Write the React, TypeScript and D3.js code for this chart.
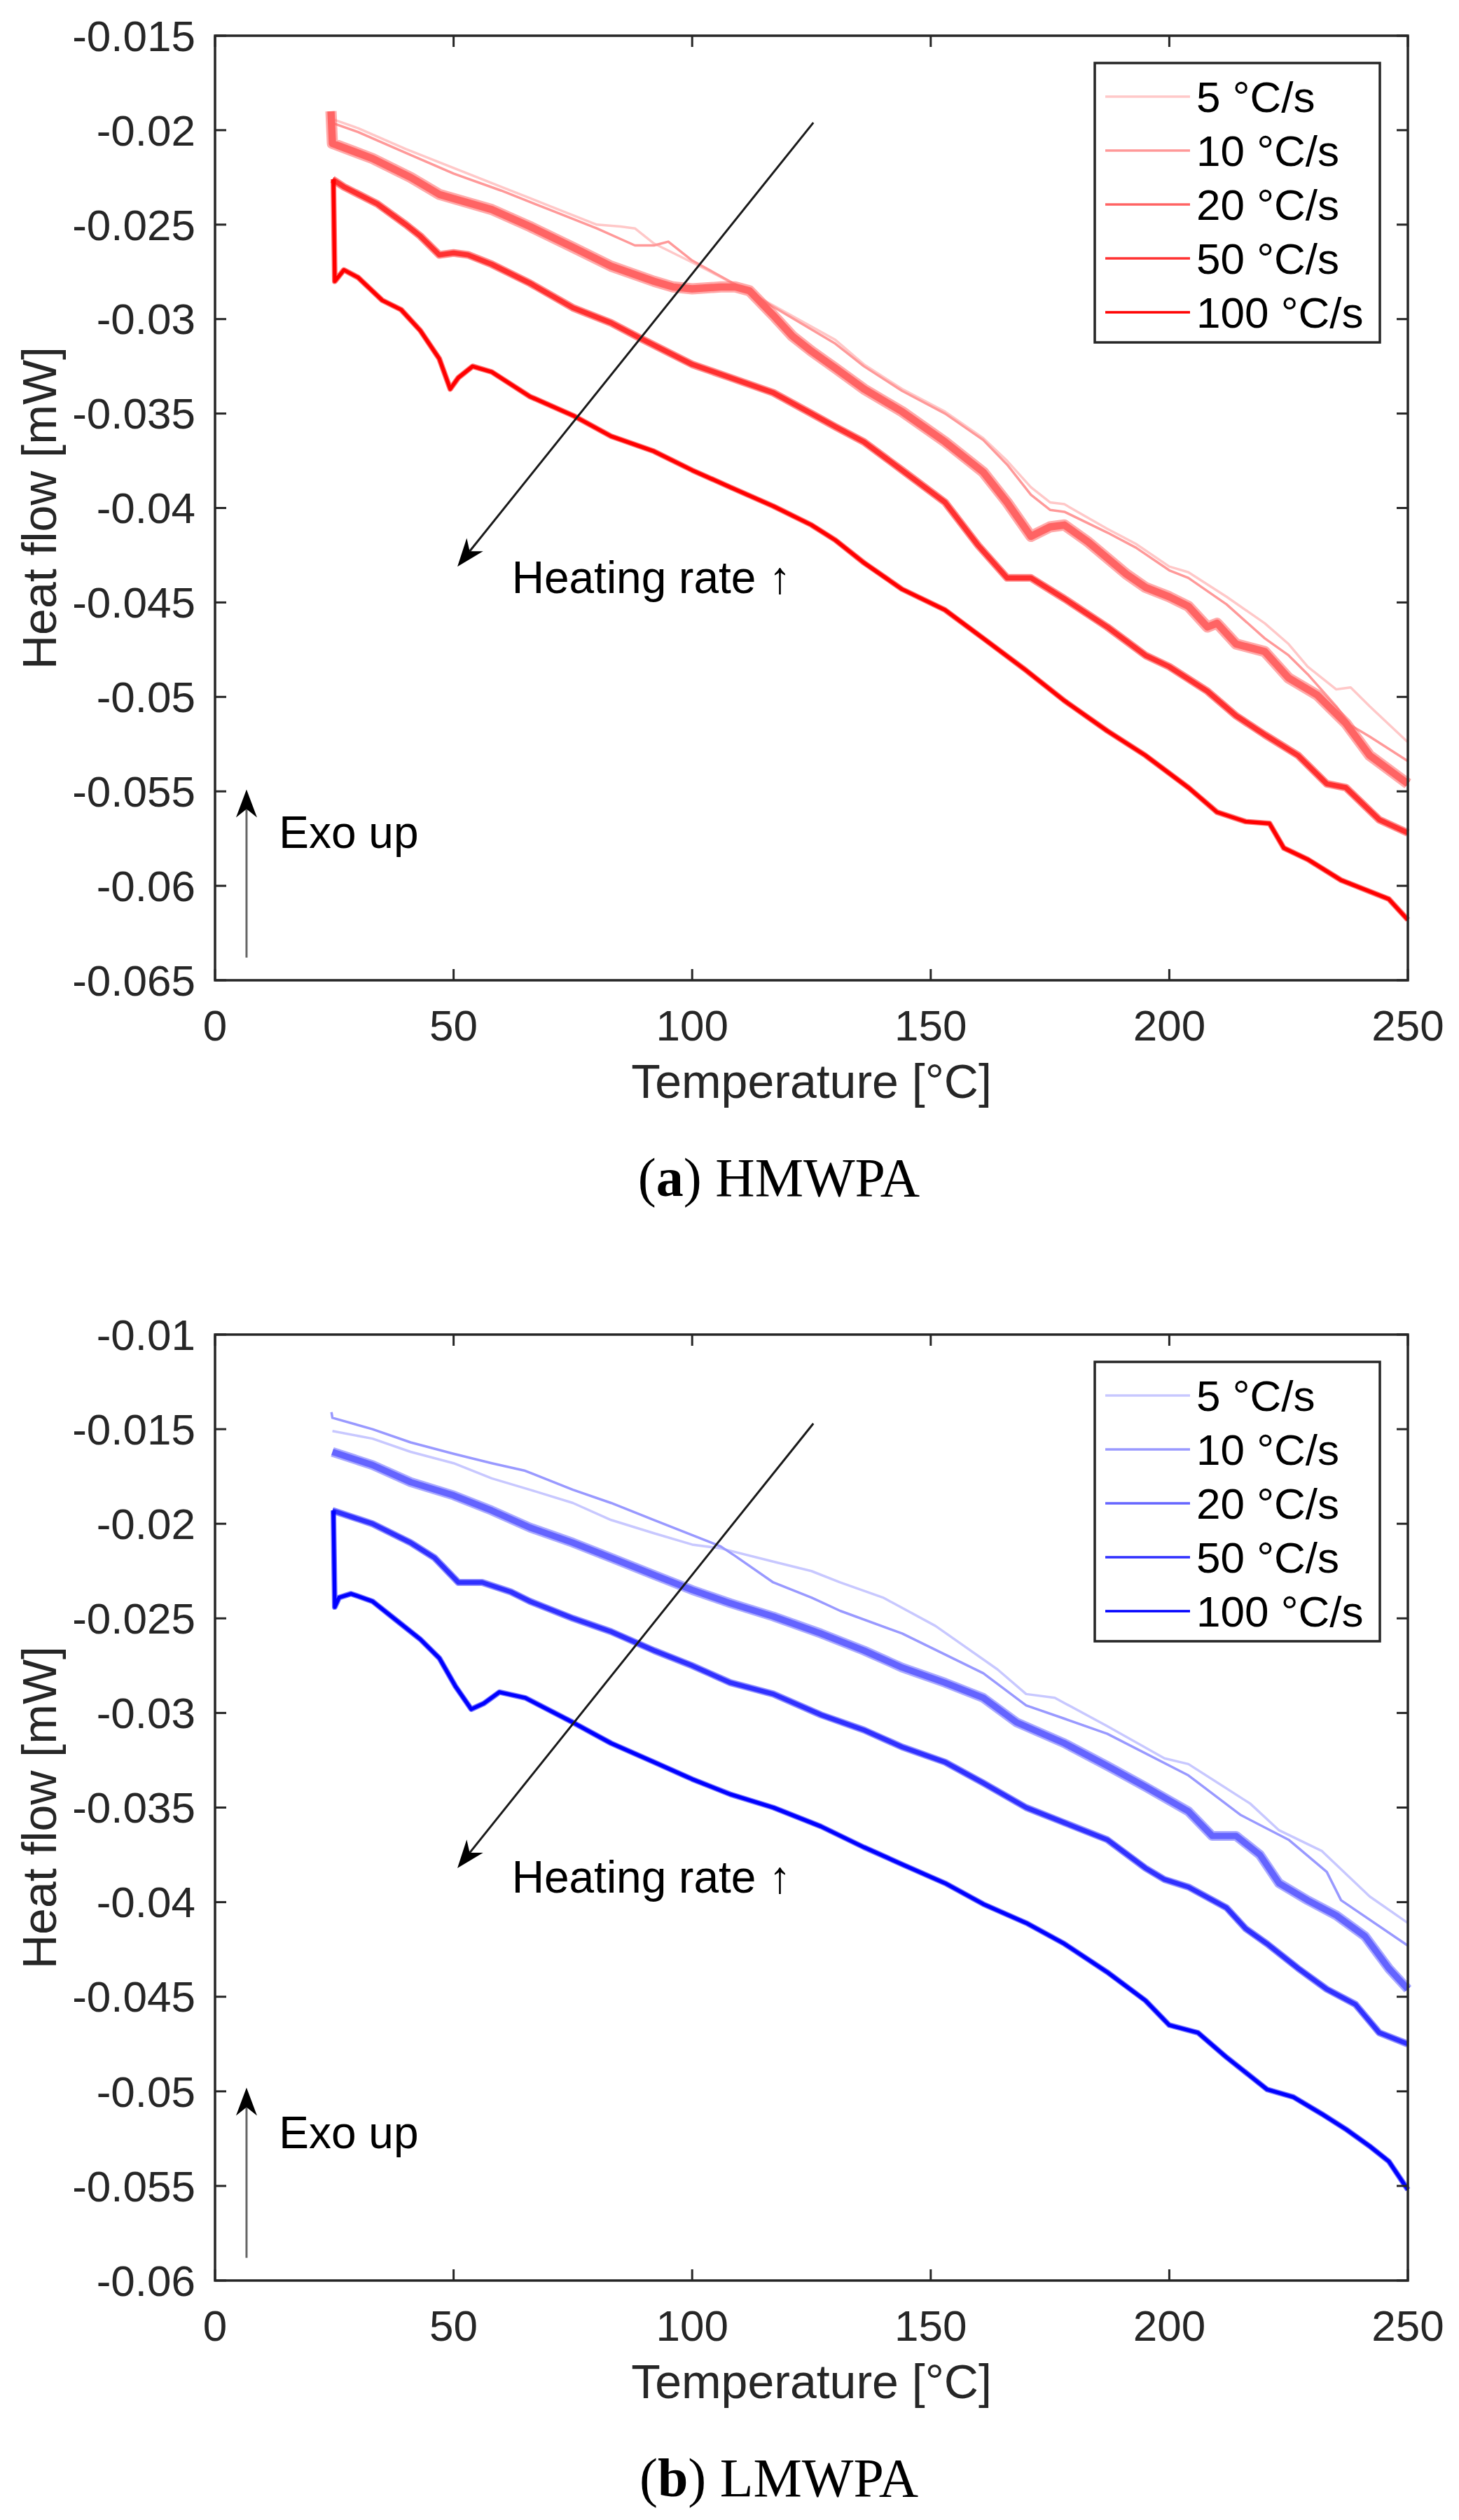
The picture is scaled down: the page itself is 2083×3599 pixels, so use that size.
import { useEffect } from "react";
import * as d3 from "d3";

type Pt = [number, number];

// ---- shared labels / ticks ----
const rateLabels = ["5 °C/s", "10 °C/s", "20 °C/s", "50 °C/s", "100 °C/s"];
const xTicks = [0, 50, 100, 150, 200, 250];
const yTicksA = [-0.065, -0.06, -0.055, -0.05, -0.045, -0.04, -0.035, -0.03, -0.025, -0.02, -0.015];
const yTicksB = [-0.06, -0.055, -0.05, -0.045, -0.04, -0.035, -0.03, -0.025, -0.02, -0.015, -0.01];

const redColors = ["#ffc8c8", "#ff9999", "#ff6464", "#ff3030", "#ff0000"];
const blueColors = ["#c8c8ff", "#9999ff", "#6464ff", "#3030ff", "#0000ff"];

// ---- (a) HMWPA : [temperature °C, heat flow mW] ----
const hmwpa5: Pt[] = [
  [24.4, -0.0194], [30, -0.0199], [40, -0.021], [50, -0.022], [60, -0.023], [70, -0.024], [80, -0.025],
  [85, -0.0251], [88, -0.0252], [92, -0.026], [96, -0.0265], [100, -0.027], [110, -0.0283], [120, -0.0297],
  [130, -0.0311], [136, -0.0324], [144, -0.0337], [153, -0.0349], [161, -0.0363], [166, -0.0375],
  [171, -0.0389], [175, -0.0397], [178, -0.0398], [187, -0.0411], [193, -0.0419], [200, -0.0431],
  [204, -0.0434], [212, -0.0447], [220, -0.0461], [225, -0.0472], [229, -0.0484], [235, -0.0496],
  [238, -0.0495], [242, -0.0505], [250, -0.0524],
];
const hmwpa10: Pt[] = [
  [24.4, -0.0196], [30, -0.0201], [40, -0.0212], [50, -0.0223], [60, -0.0232], [70, -0.0242], [80, -0.0252],
  [88, -0.0261], [92, -0.0261], [95, -0.0259], [100, -0.0269], [110, -0.0283], [120, -0.0298], [130, -0.0313],
  [136, -0.0325], [144, -0.0338], [153, -0.035], [161, -0.0364], [166, -0.0377], [171, -0.0393],
  [175, -0.0401], [178, -0.0402], [187, -0.0413], [193, -0.0421], [200, -0.0433], [204, -0.0437],
  [212, -0.0451], [220, -0.0469], [225, -0.0478], [229, -0.0488], [235, -0.0505], [238, -0.0515],
  [242, -0.0521], [250, -0.0534],
];
const hmwpa20: Pt[] = [
  [24.3, -0.019], [24.6, -0.0207], [33, -0.0215], [41, -0.0225], [47, -0.0234], [58, -0.0242], [66, -0.0251],
  [75, -0.0262], [83, -0.0272], [92, -0.028], [96, -0.0283], [100, -0.0284], [106, -0.0283], [109, -0.0283],
  [112, -0.0285], [117, -0.0298], [121, -0.0309], [125, -0.0317], [130, -0.0326], [136, -0.0337],
  [144, -0.0349], [153, -0.0365], [161, -0.0381], [166, -0.0397], [171, -0.0415], [175, -0.041],
  [178, -0.0409], [183, -0.0418], [191, -0.0435], [195, -0.0442], [200, -0.0447], [204, -0.0452],
  [208, -0.0463], [210, -0.0461], [214, -0.0472], [220, -0.0476], [225, -0.049], [231, -0.0499],
  [237, -0.0514], [242, -0.0531], [250, -0.0546],
];
const hmwpa50: Pt[] = [
  [24.6, -0.0226], [27, -0.023], [34, -0.0239], [40, -0.025], [43, -0.0256], [47, -0.0266], [50, -0.0265],
  [53, -0.0266], [58, -0.0271], [66, -0.0281], [75, -0.0294], [83, -0.0302], [89, -0.031], [100, -0.0324],
  [108, -0.0331], [117, -0.0339], [125, -0.035], [130, -0.0357], [136, -0.0365], [144, -0.038],
  [153, -0.0397], [160, -0.042], [166, -0.0437], [171, -0.0437], [178, -0.0448], [187, -0.0463],
  [195, -0.0478], [200, -0.0484], [208, -0.0497], [214, -0.051], [220, -0.052], [227, -0.0531],
  [233, -0.0546], [237, -0.0548], [244, -0.0565], [250, -0.0572],
];
const hmwpa100: Pt[] = [
  [24.8, -0.0226], [25.1, -0.028], [27, -0.0274], [30, -0.0278], [35, -0.029], [39, -0.0295], [43, -0.0306],
  [47, -0.0321], [49.3, -0.0337], [51, -0.0331], [54, -0.0325], [58, -0.0328], [66, -0.0341], [75, -0.0351],
  [83, -0.0362], [92, -0.037], [100, -0.038], [108, -0.0389], [117, -0.0399], [125, -0.0409], [130, -0.0417],
  [136, -0.0429], [144, -0.0443], [153, -0.0454], [161, -0.0469], [170, -0.0486], [178, -0.0502],
  [187, -0.0518], [195, -0.0531], [204, -0.0548], [210, -0.0561], [216, -0.0566], [221, -0.0567],
  [224, -0.058], [229, -0.0586], [236, -0.0597], [242, -0.0603], [246, -0.0607], [250, -0.0618],
];

// ---- (b) LMWPA ----
const lmwpa5: Pt[] = [
  [24.6, -0.0151], [33, -0.0155], [41, -0.0162], [50, -0.0168], [58, -0.0176], [66, -0.0182], [75, -0.0189],
  [83, -0.0198], [92, -0.0205], [100, -0.0211], [106, -0.0213], [117, -0.022], [125, -0.0225], [131, -0.0231],
  [140, -0.0239], [151, -0.0254], [164, -0.0277], [170, -0.029], [176, -0.0292], [187, -0.0307],
  [199, -0.0324], [204, -0.0327], [217, -0.0348], [223, -0.0362], [232, -0.0373], [242, -0.0397],
  [250, -0.0411],
];
const lmwpa10: Pt[] = [
  [24.4, -0.0141], [24.6, -0.0144], [33, -0.015], [41, -0.0157], [50, -0.0163], [58, -0.0168], [65, -0.0172],
  [75, -0.0182], [83, -0.0189], [92, -0.0198], [100, -0.0206], [106, -0.0212], [109, -0.0217], [117, -0.0231],
  [125, -0.0239], [131, -0.0246], [144, -0.0258], [161, -0.0279], [170, -0.0296], [178, -0.0303],
  [187, -0.0311], [204, -0.0333], [215, -0.0354], [225, -0.0367], [233, -0.0384], [236, -0.0399],
  [250, -0.0423],
];
const lmwpa20: Pt[] = [
  [24.6, -0.0162], [33, -0.0169], [41, -0.0178], [50, -0.0185], [58, -0.0193], [66, -0.0202], [75, -0.021],
  [83, -0.0218], [92, -0.0227], [100, -0.0235], [108, -0.0242], [117, -0.0249], [127, -0.0258],
  [136, -0.0267], [144, -0.0276], [153, -0.0284], [161, -0.0292], [168, -0.0305], [178, -0.0316],
  [187, -0.0328], [195, -0.0339], [204, -0.0352], [209, -0.0365], [214, -0.0365], [219, -0.0375],
  [223, -0.039], [229, -0.0399], [235, -0.0407], [241, -0.0418], [246, -0.0435], [250, -0.0446],
];
const lmwpa50: Pt[] = [
  [24.6, -0.0193], [33, -0.02], [41, -0.021], [46, -0.0218], [51, -0.0231], [56, -0.0231], [62, -0.0236],
  [66, -0.0241], [75, -0.025], [83, -0.0257], [92, -0.0267], [100, -0.0275], [108, -0.0284], [117, -0.029],
  [127, -0.0301], [136, -0.0309], [144, -0.0318], [153, -0.0326], [161, -0.0337], [170, -0.035],
  [178, -0.0358], [187, -0.0367], [195, -0.0382], [199, -0.0388], [204, -0.0392], [212, -0.0403],
  [216, -0.0414], [220.5, -0.0422], [227, -0.0435], [233, -0.0446], [239, -0.0454], [244, -0.0469],
  [250, -0.0475],
];
const lmwpa100: Pt[] = [
  [24.8, -0.0193], [25.1, -0.0244], [26, -0.0239], [28.5, -0.0237], [33, -0.0241], [38, -0.0251],
  [43, -0.0261], [47, -0.0271], [50.4, -0.0286], [53.7, -0.0298], [56.3, -0.0295], [59.6, -0.0289],
  [65, -0.0292], [75, -0.0305], [83, -0.0316], [92, -0.0326], [100, -0.0335], [108, -0.0343], [117, -0.035],
  [127, -0.036], [136, -0.0371], [144, -0.038], [153, -0.039], [161, -0.0401], [170, -0.0411], [178, -0.0422],
  [187, -0.0437], [195, -0.0452], [200, -0.0465], [206, -0.0469], [212, -0.0482], [220.5, -0.0499],
  [226, -0.0503], [232, -0.0512], [237, -0.052], [242, -0.0529], [246, -0.0537], [250, -0.0552],
];

// annotations (data units)
const heatArrowA: Pt[] = [[125.4, -0.0196], [50.8, -0.0431]];
const heatTextA: Pt = [62.2, -0.0445];
const exoArrowA: Pt[] = [[6.6, -0.0638], [6.6, -0.0549]];
const exoTextA: Pt = [13.4, -0.058];
const heatArrowB: Pt[] = [[125.4, -0.0147], [50.8, -0.0382]];
const heatTextB: Pt = [62.2, -0.0395];
const exoArrowB: Pt[] = [[6.6, -0.0588], [6.6, -0.0498]];
const exoTextB: Pt = [13.4, -0.053];

const SANS = "'Liberation Sans', Arial, Helvetica, sans-serif";
const SERIF = "'Liberation Serif', 'Times New Roman', serif";
const INK = "#262626";
const FS = 62;       // tick labels
const FS_LABEL = 68; // axis labels (1.1x)
const FS_NOTE = 64;  // annotations
const X_LEFT = 307;
const X_RIGHT = 2010;

const fmt = (v: number) => String(+v.toFixed(3));

// notched MATLAB-like arrow head
function arrowHead(x0: number, y0: number, x1: number, y1: number, L: number, W: number, notch: number) {
  const len = Math.hypot(x1 - x0, y1 - y0);
  const ux = (x1 - x0) / len, uy = (y1 - y0) / len;
  const nx = -uy, ny = ux;
  const bx = x1 - ux * L, by = y1 - uy * L;
  const mx = x1 - ux * (L - notch), my = y1 - uy * (L - notch);
  return {
    poly: `${x1},${y1} ${bx + nx * W},${by + ny * W} ${mx},${my} ${bx - nx * W},${by - ny * W}`,
    end: [mx, my] as Pt,
  };
}

interface PanelProps {
  top: number;
  bottom: number;
  yDomain: [number, number];
  yTicks: number[];
  series: Pt[][];
  colors: string[];
  widths: number[];
  tag: string;
  name: string;
  heatArrow: Pt[];
  heatText: Pt;
  exoArrow: Pt[];
  exoText: Pt;
}

function Panel({ top, bottom, yDomain, yTicks, series, colors, widths, tag, name, heatArrow, heatText, exoArrow, exoText }: PanelProps) {
  const x = d3.scaleLinear().domain([0, 250]).range([X_LEFT, X_RIGHT]);
  const y = d3.scaleLinear().domain(yDomain).range([bottom, top]);
  const line = d3.line<Pt>().x(d => x(d[0])).y(d => y(d[1])).curve(d3.curveLinear);
  const tickLen = 16;

  const hx0 = x(heatArrow[0][0]), hy0 = y(heatArrow[0][1]);
  const hx1 = x(heatArrow[1][0]), hy1 = y(heatArrow[1][1]);
  const hh = arrowHead(hx0, hy0, hx1, hy1, 40, 15, 12);
  const ex0 = x(exoArrow[0][0]), ey0 = y(exoArrow[0][1]);
  const ex1 = x(exoArrow[1][0]), ey1 = y(exoArrow[1][1]);
  const eh = arrowHead(ex0, ey0, ex1, ey1, 40, 15, 12);

  const legX = 1563, legW = 407, legTop = top + 39, legH = 399;

  return (
    <g>
      {/* data: noisy traces drawn as a soft band plus a solid core */}
      <g fill="none" strokeLinejoin="round" strokeLinecap="butt">
        {series.map((s, i) => (
          <g key={i}>
            {widths[i] > 4 && (
              <path d={line(s) || ""} stroke={colors[i]} strokeWidth={widths[i]} opacity={0.55} />
            )}
            <path d={line(s) || ""} stroke={colors[i]} strokeWidth={widths[i] > 4 ? widths[i] * 0.65 : widths[i]} />
          </g>
        ))}
      </g>

      {/* axes box */}
      <rect x={X_LEFT} y={top} width={X_RIGHT - X_LEFT} height={bottom - top} fill="none" stroke={INK} strokeWidth={3.5} />
      {xTicks.map(t => (
        <g key={"x" + t}>
          <line x1={x(t)} x2={x(t)} y1={bottom} y2={bottom - tickLen} stroke={INK} strokeWidth={3} />
          <line x1={x(t)} x2={x(t)} y1={top} y2={top + tickLen} stroke={INK} strokeWidth={3} />
          <text x={x(t)} y={bottom + 86} textAnchor="middle" fontSize={FS} fontFamily={SANS} fill={INK}>{t}</text>
        </g>
      ))}
      {yTicks.map(t => (
        <g key={"y" + t}>
          <line x1={X_LEFT} x2={X_LEFT + tickLen} y1={y(t)} y2={y(t)} stroke={INK} strokeWidth={3} />
          <line x1={X_RIGHT} x2={X_RIGHT - tickLen} y1={y(t)} y2={y(t)} stroke={INK} strokeWidth={3} />
          <text x={X_LEFT - 28} y={y(t)} dy="0.35em" textAnchor="end" fontSize={FS} fontFamily={SANS} fill={INK}>{fmt(t)}</text>
        </g>
      ))}
      <text x={(X_LEFT + X_RIGHT) / 2} y={bottom + 168} textAnchor="middle" fontSize={FS_LABEL} fontFamily={SANS} fill={INK}>Temperature [°C]</text>
      <text transform={`translate(80,${(top + bottom) / 2}) rotate(-90)`} textAnchor="middle" fontSize={FS_LABEL} fontFamily={SANS} fill={INK}>Heat flow [mW]</text>

      {/* heating-rate arrow */}
      <line x1={hx0} y1={hy0} x2={hh.end[0]} y2={hh.end[1]} stroke="#1a1a1a" strokeWidth={3} />
      <polygon points={hh.poly} fill="#000" />
      <text x={x(heatText[0])} y={y(heatText[1])} fontSize={FS_NOTE} fontFamily={SANS} fill="#000">Heating rate ↑</text>

      {/* exo up arrow */}
      <line x1={ex0} y1={ey0} x2={eh.end[0]} y2={eh.end[1]} stroke="#666" strokeWidth={3} />
      <polygon points={eh.poly} fill="#000" />
      <text x={x(exoText[0])} y={y(exoText[1])} fontSize={FS_NOTE} fontFamily={SANS} fill="#000">Exo up</text>

      {/* legend */}
      <rect x={legX} y={legTop} width={legW} height={legH} fill="#fff" stroke={INK} strokeWidth={3.5} />
      {rateLabels.map((lab, i) => {
        const cy = legTop + 48 + i * 77;
        return (
          <g key={lab}>
            <line x1={1578} x2={1699} y1={cy} y2={cy} stroke={colors[i]} strokeWidth={3.5} />
            <text x={1708} y={cy} dy="0.35em" fontSize={FS} fontFamily={SANS} fill="#000">{lab}</text>
          </g>
        );
      })}

      {/* caption */}
      <text x={1112} y={bottom + 308} textAnchor="middle" fontSize={78} fontFamily={SERIF} fill="#000">
        <tspan>(</tspan><tspan fontWeight="bold">{tag}</tspan><tspan>) {name}</tspan>
      </text>
    </g>
  );
}

export default function App() {
  useEffect(() => {
    document.body.style.margin = "0";
  }, []);

  return (
    <svg width={2083} height={3599} viewBox="0 0 2083 3599" style={{ display: "block", background: "#fff" }}>
      <rect width={2083} height={3599} fill="#fff" />
      <Panel
        top={51}
        bottom={1400}
        yDomain={[-0.065, -0.015]}
        yTicks={yTicksA}
        series={[hmwpa5, hmwpa10, hmwpa20, hmwpa50, hmwpa100]}
        colors={redColors}
        widths={[3.5, 3.5, 16, 11, 8]}
        tag="a"
        name="HMWPA"
        heatArrow={heatArrowA}
        heatText={heatTextA}
        exoArrow={exoArrowA}
        exoText={exoTextA}
      />
      <Panel
        top={1906}
        bottom={3257}
        yDomain={[-0.06, -0.01]}
        yTicks={yTicksB}
        series={[lmwpa5, lmwpa10, lmwpa20, lmwpa50, lmwpa100]}
        colors={blueColors}
        widths={[3.5, 3.5, 14, 10, 8]}
        tag="b"
        name="LMWPA"
        heatArrow={heatArrowB}
        heatText={heatTextB}
        exoArrow={exoArrowB}
        exoText={exoTextB}
      />
    </svg>
  );
}
